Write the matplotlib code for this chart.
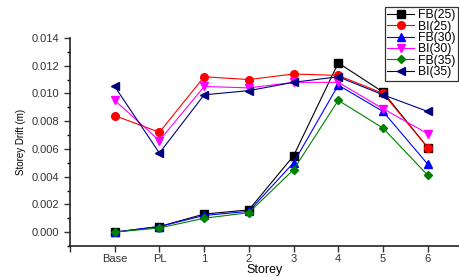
import matplotlib.pyplot as plt

plt.rcParams['font.family'] = ['Liberation Sans', 'DejaVu Sans']

storeys = ["Base", "PL", "1", "2", "3", "4", "5", "6"]

fb25 = [0.0000, 0.0004, 0.0013, 0.0016, 0.0055, 0.0122, 0.0101, 0.0061]
bi25 = [0.0084, 0.0072, 0.0112, 0.0110, 0.0114, 0.0113, 0.0100, 0.0061]
fb30 = [0.0000, 0.0004, 0.0012, 0.0015, 0.0050, 0.0106, 0.0087, 0.0049]
bi30 = [0.0095, 0.0066, 0.0105, 0.0104, 0.0108, 0.0108, 0.0089, 0.0071]
fb35 = [0.0000, 0.0003, 0.0010, 0.0014, 0.0045, 0.0095, 0.0075, 0.0041]
bi35 = [0.0105, 0.0057, 0.0099, 0.0102, 0.0108, 0.0112, 0.0099, 0.0087]

series = [
    ("FB(25)", fb25, "black", "s"),
    ("BI(25)", bi25, "red", "o"),
    ("FB(30)", fb30, "blue", "^"),
    ("BI(30)", bi30, "magenta", "v"),
    ("FB(35)", fb35, "green", "D"),
    ("BI(35)", bi35, "navy", "<"),
]

fig = plt.figure(figsize=(4.59, 2.77), dpi=100)
ax = fig.add_axes([0.1525, 0.112, 0.8475, 0.751])

x = list(range(len(storeys)))
for name, vals, col, mk in series:
    ms = 4.5 if mk == "D" else 5.5
    ax.plot(x, vals, color=col, marker=mk, markersize=ms, linewidth=0.8, label=name)

ax.set_xlim(-1, 7.7)
ax.set_ylim(-0.001, 0.014)
ax.set_xticks(range(-1, 8))
ax.set_xticklabels([""] + storeys)
ax.set_yticks([0.000, 0.002, 0.004, 0.006, 0.008, 0.010, 0.012, 0.014])
ax.set_yticks([-0.001, 0.001, 0.003, 0.005, 0.007, 0.009, 0.011, 0.013], minor=True)
ax.yaxis.set_major_formatter(plt.FormatStrFormatter("%.3f"))
ax.tick_params(axis="both", which="major", direction="out", length=4, width=1, labelsize=8,
               colors="#333333", labelcolor="#333333")
ax.tick_params(axis="x", which="major", pad=2)
ax.tick_params(axis="y", which="minor", direction="out", length=2, width=1)
for s in ["top", "right"]:
    ax.spines[s].set_visible(False)
for s in ["left", "bottom"]:
    ax.spines[s].set_linewidth(1.2)
    ax.spines[s].set_color("#222222")

ax.set_xlabel("Storey", fontsize=9, labelpad=0)
ax.set_ylabel("Storey Drift (m)", fontsize=7, labelpad=4)

leg = ax.legend(loc="upper right", bbox_to_anchor=(0.998, 1.15), fontsize=8.8, frameon=True,
                fancybox=False, edgecolor="black", handlelength=2.2, borderpad=0.2,
                labelspacing=-0.05, handletextpad=0.35, borderaxespad=0)
leg.get_frame().set_linewidth(0.9)

fig.savefig("out.png", dpi=100)
